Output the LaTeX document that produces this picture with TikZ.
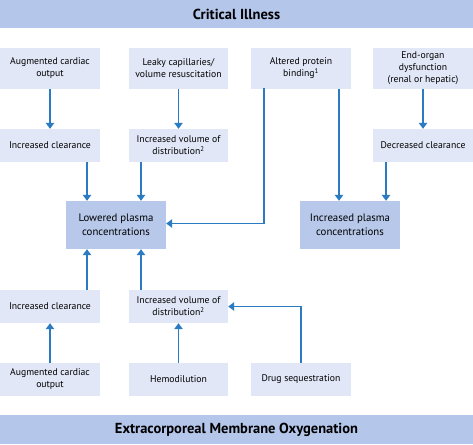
\documentclass[tikz,border=0pt]{standalone}
\usepackage{fontspec}
\setmainfont{PT Sans}
\usetikzlibrary{arrows.meta}
\definecolor{lightbox}{HTML}{E1E7F7}
\definecolor{darkbox}{HTML}{B7C8EA}
\definecolor{banner}{HTML}{B4C6EA}
\definecolor{arrowc}{HTML}{2B7BC2}
\tikzset{
  smallbox/.style={fill=lightbox, draw=none, minimum width=100pt, align=center, inner sep=0pt, font=\fontsize{9.7}{12}\selectfont},
  bigbox/.style={fill=darkbox, draw=none, minimum width=100pt, minimum height=48pt, align=center, inner sep=0pt, font=\fontsize{10.8}{13.5}\selectfont},
  bannerbox/.style={fill=banner, draw=none, minimum width=473pt, minimum height=29pt, inner sep=0pt, font=\fontsize{14.5}{16}\selectfont\bfseries},
  arr/.style={draw=arrowc, line width=1.4pt, -{Triangle[length=6pt,width=8.5pt]}},
}
\begin{document}
\begin{tikzpicture}[x=1pt,y=-1pt]
\useasboundingbox (0,0) rectangle (473,444);
% banners
\node[bannerbox] (ci) at (236.5,14) {Critical Illness};
\node[bannerbox] (ecmo) at (236.5,429.5) {Extracorporeal Membrane Oxygenation};
% row 1
\node[smallbox, minimum height=41pt] (aco1) at (50,68.5) {Augmented cardiac\\output};
\node[smallbox, minimum height=41pt, minimum width=99pt] (leaky) at (178.5,68.5) {Leaky capillaries/\\volume resuscitation};
\node[smallbox, minimum height=41pt] (apb) at (301,68.5) {Altered protein\\binding\textsuperscript{1}};
\node[smallbox, minimum height=41pt] (eod) at (423,68.5) {End-organ\\dysfunction\\(renal or hepatic)};
% row 2
\node[smallbox, minimum height=33pt] (ic1) at (50,145.5) {Increased clearance};
\node[smallbox, minimum height=33pt, minimum width=99pt] (iv1) at (178.5,145.5) {Increased volume of\\distribution\textsuperscript{2}};
\node[smallbox, minimum height=33pt] (dc) at (423,145.5) {Decreased clearance};
% plasma
\node[bigbox] (lp) at (116,225) {Lowered plasma\\concentrations};
\node[bigbox] (ip) at (350,225) {Increased plasma\\concentrations};
% lower rows
\node[smallbox, minimum height=33pt] (ic2) at (50,306.5) {Increased clearance};
\node[smallbox, minimum height=33pt, minimum width=99pt] (iv2) at (178.5,306.5) {Increased volume of\\distribution\textsuperscript{2}};
\node[smallbox, minimum height=33pt] (aco2) at (50,379.5) {Augmented cardiac\\output};
\node[smallbox, minimum height=33pt, minimum width=99pt] (hemo) at (178.5,379.5) {Hemodilution};
\node[smallbox, minimum height=33pt] (ds) at (301,379.5) {Drug sequestration};
% arrows top half
\draw[arr] (aco1.south) -- (ic1.north);
\draw[arr] (leaky.south) -- (iv1.north);
\draw[arr] (eod.south) -- (dc.north);
\draw[arr] (ic1.south -| 87,0) -- (lp.north -| 87,0);
\draw[arr] (iv1.south -| 141,0) -- (lp.north -| 141,0);
\draw[arr] ([yshift=1pt]apb.south -| 264,0) |- ([yshift=1.5pt]lp.east);
\draw[arr] (apb.south -| 339,0) -- (ip.north -| 339,0);
\draw[arr] (dc.south -| 386,0) -- (ip.north -| 386,0);
% arrows bottom half
\draw[arr] (ic2.north -| 87,0) -- (lp.south -| 87,0);
\draw[arr] (iv2.north -| 141,0) -- (lp.south -| 141,0);
\draw[arr] (aco2.north) -- (ic2.south);
\draw[arr] (hemo.north) -- (iv2.south);
\draw[arr] (ds.north) |- (iv2.east);
\end{tikzpicture}
\end{document}
